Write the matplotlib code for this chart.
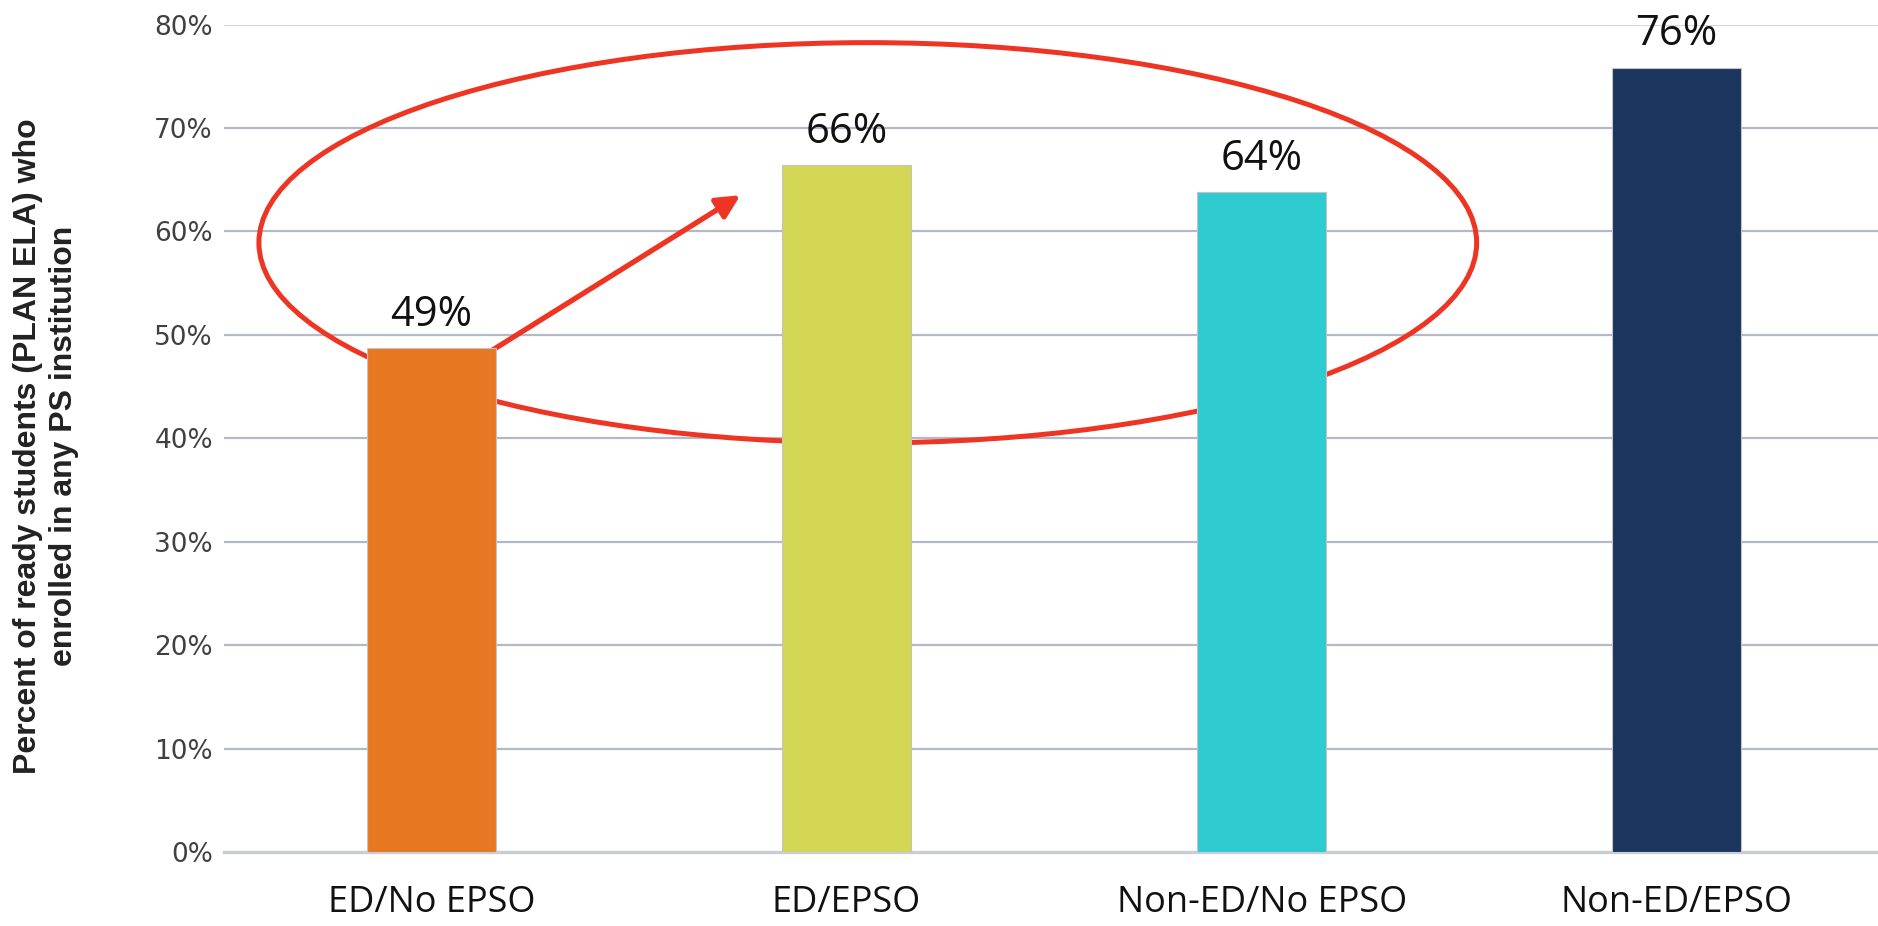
import numpy as np
import matplotlib.pyplot as plt
from matplotlib.patches import Ellipse
from matplotlib.ticker import FuncFormatter

'''Data'''
categories = ['ED/No EPSO', 'ED/EPSO', 'Non-ED/No EPSO', 'Non-ED/EPSO']
values = [48.7, 66.4, 63.8, 75.8]
labels = ['49%', '66%', '64%', '76%']
colors = ['#E87722', '#D3D755', '#2ECBD1', '#1C355E']
yticks = [0, 10, 20, 30, 40, 50, 60, 70, 80]

'''Plot'''
fig = plt.figure(figsize=(18.78, 9.26), dpi=100)
ax = fig.add_axes([0.1193, 0.0799, 0.8807, 0.8936])

x = np.arange(len(categories))
ax.bar(x, values, width=0.312, color=colors, edgecolor='#c4c4c4', linewidth=0.8, zorder=3)

for xi, v, lab in zip(x, values, labels):
    ax.annotate(lab, (xi, v), xytext=(0, 9), textcoords='offset points',
                ha='center', va='bottom', fontsize=30, family='Open Sans', color='#111111')

#red ellipse + arrow (behind bars)
ax.add_patch(Ellipse((1.051, 58.9), 2.934, 38.7, fill=False, edgecolor='#EE3524',
                     linewidth=3.6, zorder=2))
ax.annotate('', xy=(0.744, 63.5), xytext=(0.09, 47.1),
            arrowprops=dict(arrowstyle='-|>,head_length=1.4,head_width=0.7',
                            color='#EE3524', lw=3.8, shrinkA=0, shrinkB=0), zorder=2)

ax.set_xlim(-0.5, 3.485)
ax.set_ylim(0, 80)
ax.set_yticks(yticks)
ax.yaxis.set_major_formatter(FuncFormatter(lambda v, p: f'{v:.0f}%'))
ax.set_xticks(x)
ax.set_xticklabels(categories, fontsize=26, family='Open Sans', color='#111111')
ax.tick_params(axis='x', length=0, pad=24)
ax.tick_params(axis='y', length=0, pad=8, labelsize=19, labelcolor='#404040')

ax.yaxis.grid(True, color='#b4b9c5', linewidth=1.6, zorder=0)
ax.set_axisbelow(True)
gl = ax.get_ygridlines()
gl[-1].set_color('#d2d8e0')
gl[0].set_visible(False)
for s in ['top', 'right', 'left']:
    ax.spines[s].set_visible(False)
ax.spines['bottom'].set_color('#c9ced6')
ax.spines['bottom'].set_linewidth(2.4)

fig.text(0.0245, 0.518, 'Percent of ready students (PLAN ELA) who\nenrolled in any PS institution',
         rotation=90, ha='center', va='center', multialignment='center',
         fontsize=23, fontweight='bold', family='Liberation Sans', color='#222222',
         linespacing=1.3)

plt.savefig('out.png', dpi=100)
